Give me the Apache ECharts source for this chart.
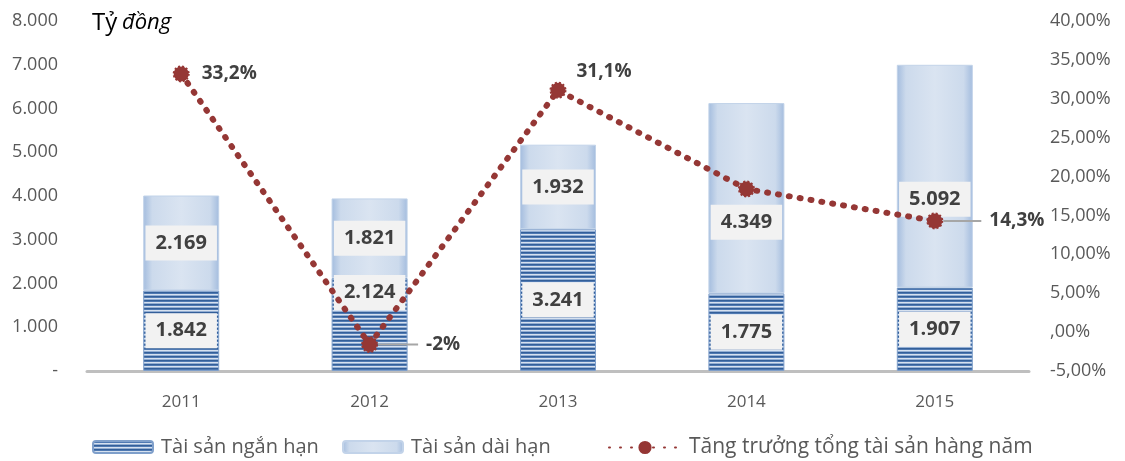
<!DOCTYPE html>
<html>
<head>
<meta charset="utf-8">
<script src="https://cdn.jsdelivr.net/npm/echarts@6/dist/echarts.min.js"></script>
<style>
  html, body { margin: 0; padding: 0; background: #fff; }
  #chart { width: 1125px; height: 461px; }
</style>
</head>
<body>
<div id="chart"></div>
<script>
// dữ liệu
const years = ["2011", "2012", "2013", "2014", "2015"];
const shortTerm = [1842, 2124, 3241, 1775, 1907]; // Tài sản ngắn hạn
const longTerm = [2169, 1821, 1932, 4349, 5092]; // Tài sản dài hạn
const growth = [33.2, -1.6, 31.1, 18.4, 14.3]; // Tăng trưởng tổng tài sản (%)
const growthLabels = ["33,2%", "-2%", "31,1%", "", "14,3%"];

const FONT = "Open Sans";

function fmtThousand(v) {
  if (v === 0) return "-";
  return String(v).replace(/\B(?=(\d{3})+(?!\d))/g, ".");
}
function fmtPct(v) {
  if (v === 0) return ",00%";
  return v.toFixed(2).replace(".", ",") + "%";
}

// sọc ngang cho tài sản ngắn hạn
function stripeCanvas() {
  const c = document.createElement("canvas");
  c.width = 4;
  c.height = 4;
  const ctx = c.getContext("2d");
  const rows = ["#335f99", "#4f79b2", "#d6e1ef", "#93aed3"];
  rows.forEach((col, i) => {
    ctx.fillStyle = col;
    ctx.fillRect(0, i, 4, 1);
  });
  return c;
}
const stripe = { image: stripeCanvas(), repeat: "repeat" };

const longGrad = new echarts.graphic.LinearGradient(0, 0, 1, 0, [
  { offset: 0, color: "#a3bcde" },
  { offset: 0.12, color: "#ccdaec" },
  { offset: 0.5, color: "#dae4f1" },
  { offset: 0.88, color: "#ccdaec" },
  { offset: 1, color: "#a3bcde" },
]);

const barLabel = {
  show: true,
  position: "inside",
  color: "#404040",
  fontFamily: FONT,
  fontWeight: "bold",
  fontSize: 20,
  backgroundColor: "#f2f2f2",
  padding: [9, 10, 6, 10],
  formatter: (p) => fmtThousand(p.value),
};

// dịch nhãn để tránh đường tăng trưởng
const shortLabelOffset = [[0, 0], [0, -32], [0, 0], [0, 0], [0, 0]];
const longLabelOffset = [[0, 0], [0, 0], [0, 0], [0, 24], [0, 23]];

const leader = (w) => ({ width: w, height: 2, backgroundColor: "#a6a6a6" });
const lineLabelCfg = [
  { position: "right", distance: 12 },
  { position: "right", distance: 0, formatter: "{ln|}{sp|}{t|-2%}" },
  { position: "top", offset: [46, 4] },
  { show: false },
  { position: "right", distance: 0, formatter: "{ln2|}{sp|}{t|14,3%}" },
];

const axisText = { color: "#595959", fontFamily: FONT };

var myChart = echarts.init(document.getElementById("chart"));
myChart.setOption({
  animation: false,
  textStyle: { fontFamily: FONT },
  title: {
    left: 87,
    top: 6,
    text: "{a|Tỷ} {b|đồng}",
    textStyle: {
      fontWeight: "normal",
      rich: {
        a: { fontFamily: FONT, fontSize: 24, fontWeight: "normal", color: "#000" },
        b: { fontFamily: FONT, fontSize: 22, fontWeight: "normal", fontStyle: "italic", color: "#000" },
      },
    },
  },
  grid: { left: 87, right: 96, top: 21, bottom: 90 },
  legend: [
    {
      left: 92,
      bottom: 4,
      padding: 0,
      data: ["Tài sản ngắn hạn"],
      itemWidth: 60,
      itemHeight: 12,
      textStyle: { fontFamily: FONT, fontSize: 20, color: "#595959", padding: [0, 0, 0, 3] },
    },
    {
      left: 342,
      bottom: 4,
      padding: 0,
      data: ["Tài sản dài hạn"],
      itemWidth: 60,
      itemHeight: 12,
      textStyle: { fontFamily: FONT, fontSize: 20, color: "#595959", padding: [0, 0, 0, 3] },
    },
    {
      left: 608,
      bottom: 3,
      padding: 0,
      data: ["Tăng trưởng tổng tài sản hàng năm"],
      itemWidth: 72,
      itemHeight: 14,
      textStyle: { fontFamily: FONT, fontSize: 21, color: "#595959", padding: [0, 0, 0, 3] },
    },
  ],
  xAxis: {
    type: "category",
    data: years,
    axisLine: { lineStyle: { color: "#bfbfbf", width: 3 } },
    axisTick: { show: false },
    axisLabel: Object.assign({ fontSize: 17, margin: 23 }, axisText),
  },
  yAxis: [
    {
      type: "value",
      min: 0,
      max: 8000,
      interval: 1000,
      splitLine: { show: false },
      axisLine: { show: false },
      axisTick: { show: false },
      axisLabel: Object.assign({ fontSize: 18, margin: 29, formatter: fmtThousand }, axisText),
    },
    {
      type: "value",
      min: -5,
      max: 40,
      interval: 5,
      splitLine: { show: false },
      axisLine: { show: false },
      axisTick: { show: false },
      axisLabel: Object.assign({ fontSize: 18, margin: 21, formatter: fmtPct }, axisText),
    },
  ],
  series: [
    {
      name: "Tài sản ngắn hạn",
      type: "bar",
      stack: "ts",
      barWidth: 76,
      data: shortTerm.map((v, i) => ({ value: v, label: { offset: shortLabelOffset[i] } })),
      itemStyle: { color: stripe, borderColor: "#7f9fca", borderWidth: 1 },
      label: barLabel,
    },
    {
      name: "Tài sản dài hạn",
      type: "bar",
      stack: "ts",
      barWidth: 76,
      data: longTerm.map((v, i) => ({ value: v, label: { offset: longLabelOffset[i] } })),
      itemStyle: { color: longGrad, borderColor: "#c2d3e9", borderWidth: 1 },
      label: barLabel,
    },
    {
      name: "Tăng trưởng tổng tài sản hàng năm",
      type: "line",
      yAxisIndex: 1,
      z: 5,
      data: growth.map((v, i) => ({ value: v, label: lineLabelCfg[i] })),
      symbol: "circle",
      symbolSize: 15,
      itemStyle: { color: "#953735", borderColor: "#953735", borderWidth: 2, borderType: "dotted" },
      lineStyle: { color: "#953735", width: 6, type: [1, 10], cap: "round" },
      label: {
        show: true,
        color: "#404040",
        fontFamily: FONT,
        fontWeight: "bold",
        fontSize: 19,
        formatter: (p) => growthLabels[p.dataIndex],
        rich: {
          ln: leader(40),
          ln2: leader(38),
          sp: { width: 8 },
          t: { color: "#404040", fontFamily: FONT, fontWeight: "bold", fontSize: 19 },
        },
      },
    },
  ],
});
window.addEventListener("resize", function () {
  myChart.resize();
});
</script>
</body>
</html>
